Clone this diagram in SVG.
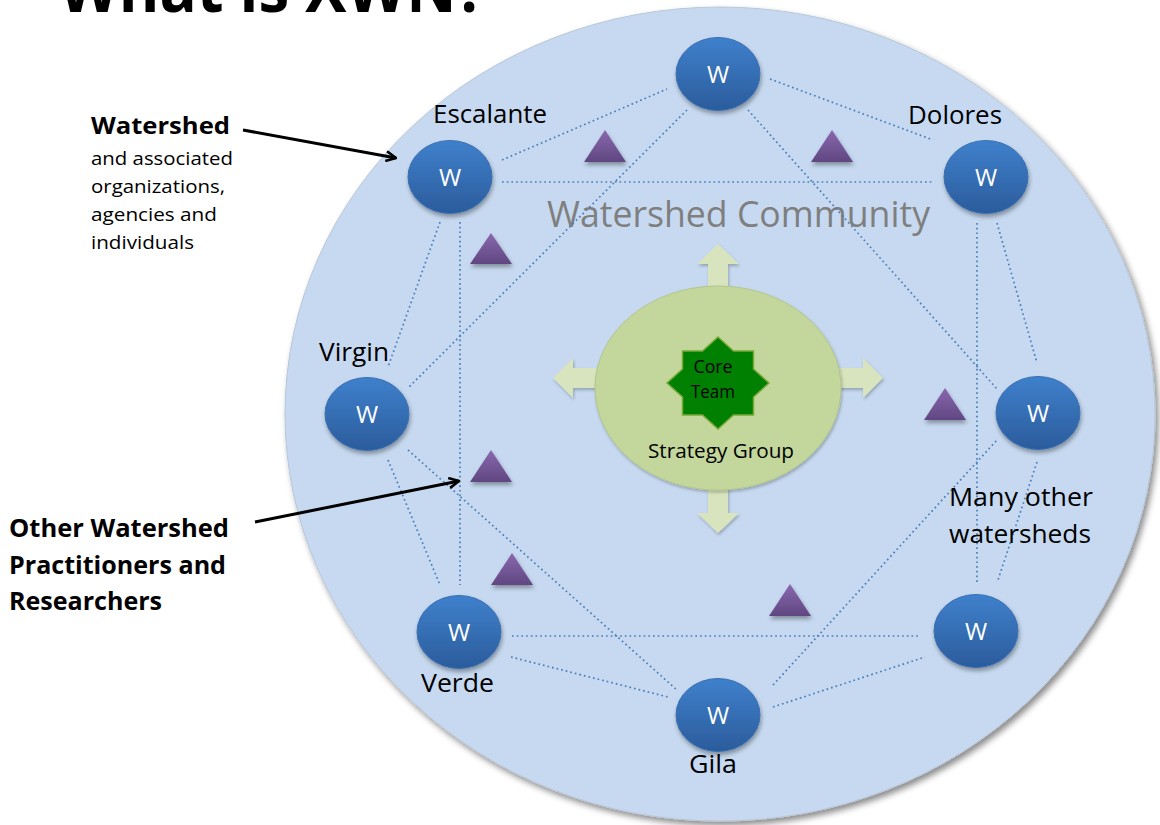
<svg xmlns="http://www.w3.org/2000/svg" width="1160" height="825" viewBox="0 0 1160 825">
<defs>
  <style>
    .lbl{font-family:"Open Sans","Noto Sans","Liberation Sans",sans-serif;font-size:25px;fill:#000}
    .side{font-family:"Open Sans","Noto Sans","Liberation Sans",sans-serif;font-size:19px;fill:#000}
    .bold{font-family:"Open Sans","Noto Sans","Liberation Sans",sans-serif;font-weight:bold;fill:#000}
    .w{font-family:"Open Sans","Noto Sans","Liberation Sans",sans-serif;font-size:24px;fill:#fff;text-anchor:middle}
    .dot{stroke:#4a7ebb;stroke-width:1.7;stroke-dasharray:1.7 3;fill:none}
    .node{fill:url(#gBlue);stroke:#3b6fb0;stroke-width:1;filter:url(#sh)}
    .tri{fill:url(#gPurple);filter:url(#sh)}
    .blk{fill:#d7e4bd;filter:url(#sh2)}
    .ptr{stroke:#000;stroke-width:3;fill:none;marker-end:url(#head)}
  </style>
  <linearGradient id="gBlue" x1="0" y1="0" x2="0" y2="1">
    <stop offset="0" stop-color="#3f80cc"/>
    <stop offset="1" stop-color="#2b5c9c"/>
  </linearGradient>
  <linearGradient id="gPurple" x1="0" y1="0" x2="0" y2="1">
    <stop offset="0" stop-color="#8a67ae"/>
    <stop offset="1" stop-color="#5f4781"/>
  </linearGradient>
  <filter id="sh" x="-30%" y="-30%" width="160%" height="170%">
    <feDropShadow dx="1" dy="3" stdDeviation="2" flood-color="#000" flood-opacity="0.35"/>
  </filter>
  <filter id="sh2" x="-30%" y="-30%" width="160%" height="170%">
    <feDropShadow dx="1" dy="2" stdDeviation="1.5" flood-color="#000" flood-opacity="0.25"/>
  </filter>
  <filter id="big" x="-10%" y="-10%" width="120%" height="120%">
    <feDropShadow dx="3" dy="4" stdDeviation="3" flood-color="#000" flood-opacity="0.45"/>
  </filter>
  <marker id="head" viewBox="0 0 12 12" refX="11" refY="6" markerWidth="12" markerHeight="12" markerUnits="userSpaceOnUse" orient="auto">
    <path d="M1,1 L11,6 L1,11" fill="none" stroke="#000" stroke-width="2.6"/>
  </marker>
</defs>

<text class="bold" x="59" y="12" font-size="66" textLength="427" lengthAdjust="spacingAndGlyphs">What is XWN?</text>

<g id="community">
  <ellipse cx="720" cy="414" rx="435" ry="407" fill="#c6d9f0" stroke="#b8c6d8" stroke-width="1" filter="url(#big)"/>
  <text x="547" y="227" font-family="'Open Sans','Noto Sans',sans-serif" font-size="36" fill="#7f7f7f" textLength="383" lengthAdjust="spacingAndGlyphs">Watershed Community</text>
</g>

<g id="connectors">
  <line class="dot" x1="502" y1="160" x2="667" y2="89"/>
  <line class="dot" x1="502" y1="182" x2="933" y2="182"/>
  <line class="dot" x1="770" y1="79" x2="933" y2="140"/>
  <line class="dot" x1="687" y1="110" x2="408" y2="388"/>
  <line class="dot" x1="748" y1="110" x2="998" y2="390"/>
  <line class="dot" x1="440" y1="222" x2="388" y2="367"/>
  <line class="dot" x1="460" y1="222" x2="460" y2="585"/>
  <line class="dot" x1="388" y1="460" x2="440" y2="585"/>
  <line class="dot" x1="408" y1="450" x2="677" y2="690"/>
  <line class="dot" x1="512" y1="636" x2="918" y2="636"/>
  <line class="dot" x1="511" y1="657" x2="668" y2="697"/>
  <line class="dot" x1="773" y1="707" x2="925" y2="657"/>
  <line class="dot" x1="773" y1="685" x2="997" y2="440"/>
  <line class="dot" x1="977" y1="223" x2="977" y2="583"/>
  <line class="dot" x1="997" y1="223" x2="1037" y2="363"/>
  <line class="dot" x1="1037" y1="462" x2="998" y2="580"/>
</g>

<g id="practitioners">
  <polygon class="tri" points="605,130 626,162 584,162"/>
  <polygon class="tri" points="832,130 853,162 811,162"/>
  <polygon class="tri" points="491,233 512,264 470,264"/>
  <polygon class="tri" points="491,450 512,482 470,482"/>
  <polygon class="tri" points="512,553 533,585 491,585"/>
  <polygon class="tri" points="790,584 811,616 769,616"/>
  <polygon class="tri" points="945,388 966,420 924,420"/>
</g>

<g id="strategy-group">
  <polygon class="blk" points="708,292 708,264 697,264 718,244 739,264 728,264 728,292"/>
  <polygon class="blk" points="708,486 708,513 697,513 718,533 739,513 728,513 728,486"/>
  <polygon class="blk" points="600,368 573,368 573,358 553,378 573,398 573,388 600,388"/>
  <polygon class="blk" points="836,368 863,368 863,358 883,378 863,398 863,388 836,388"/>
  <ellipse cx="718" cy="388" rx="123" ry="102" fill="#c3d69b" stroke="#b3c78a" stroke-width="1" filter="url(#sh2)"/>
  <text x="648" y="458" font-family="'Open Sans','Noto Sans',sans-serif" font-size="20" fill="#000" textLength="146" lengthAdjust="spacingAndGlyphs">Strategy Group</text>
</g>

<g id="core-team">
  <polygon points="718,337 733.5,351 753.5,351 753.5,369 769,383 753.5,397 753.5,415 733.5,415 718,429 702.5,415 682.5,415 682.5,397 667,383 682.5,369 682.5,351 702.5,351" fill="#008000" stroke="#7aa83a" stroke-width="1.5"/>
  <text x="713" y="373" font-family="'Open Sans','Noto Sans',sans-serif" font-size="17.5" fill="#000" text-anchor="middle" textLength="39" lengthAdjust="spacingAndGlyphs">Core</text>
  <text x="713" y="398" font-family="'Open Sans','Noto Sans',sans-serif" font-size="17.5" fill="#000" text-anchor="middle" textLength="44" lengthAdjust="spacingAndGlyphs">Team</text>
</g>

<g id="node-top">
  <ellipse class="node" cx="718" cy="74" rx="42" ry="36.5"/>
  <text class="w" x="718" y="83">W</text>
</g>
<g id="node-escalante">
  <ellipse class="node" cx="450" cy="177" rx="42" ry="36.5"/>
  <text class="w" x="450" y="186">W</text>
  <text class="lbl" x="433" y="123" textLength="114" lengthAdjust="spacingAndGlyphs">Escalante</text>
</g>
<g id="node-dolores">
  <ellipse class="node" cx="986" cy="177" rx="42" ry="36.5"/>
  <text class="w" x="986" y="186">W</text>
  <text class="lbl" x="908" y="124" textLength="94" lengthAdjust="spacingAndGlyphs">Dolores</text>
</g>
<g id="node-virgin">
  <ellipse class="node" cx="367" cy="414" rx="42" ry="36.5"/>
  <text class="w" x="367" y="423">W</text>
  <text class="lbl" x="319" y="361" textLength="70" lengthAdjust="spacingAndGlyphs">Virgin</text>
</g>
<g id="node-many-other">
  <ellipse class="node" cx="1038" cy="413" rx="42" ry="36.5"/>
  <text class="w" x="1038" y="422">W</text>
  <text class="lbl" x="949" y="506" textLength="144" lengthAdjust="spacingAndGlyphs">Many other</text>
  <text class="lbl" x="949" y="543" textLength="142" lengthAdjust="spacingAndGlyphs">watersheds</text>
</g>
<g id="node-bottom-right">
  <ellipse class="node" cx="976" cy="631" rx="42" ry="36.5"/>
  <text class="w" x="976" y="640">W</text>
</g>
<g id="node-verde">
  <ellipse class="node" cx="459" cy="632" rx="42" ry="36.5"/>
  <text class="w" x="459" y="641">W</text>
  <text class="lbl" x="421" y="692" textLength="73" lengthAdjust="spacingAndGlyphs">Verde</text>
</g>
<g id="node-gila">
  <ellipse class="node" cx="718" cy="715" rx="42" ry="36.5"/>
  <text class="w" x="718" y="724">W</text>
  <text class="lbl" x="689" y="773" textLength="48" lengthAdjust="spacingAndGlyphs">Gila</text>
</g>

<g id="label-watershed">
  <text class="bold" x="91" y="134" font-size="24" textLength="139" lengthAdjust="spacingAndGlyphs">Watershed</text>
  <text class="side" x="91" y="165" textLength="142" lengthAdjust="spacingAndGlyphs">and associated</text>
  <text class="side" x="91" y="193" textLength="134" lengthAdjust="spacingAndGlyphs">organizations,</text>
  <text class="side" x="91" y="221" textLength="126" lengthAdjust="spacingAndGlyphs">agencies and</text>
  <text class="side" x="91" y="249" textLength="103" lengthAdjust="spacingAndGlyphs">individuals</text>
  <line class="ptr" x1="243" y1="130" x2="396" y2="158"/>
</g>

<g id="label-practitioners">
  <text class="bold" x="9" y="537" font-size="25" textLength="220" lengthAdjust="spacingAndGlyphs">Other Watershed</text>
  <text class="bold" x="9" y="574" font-size="25" textLength="217" lengthAdjust="spacingAndGlyphs">Practitioners and</text>
  <text class="bold" x="9" y="610" font-size="25" textLength="153" lengthAdjust="spacingAndGlyphs">Researchers</text>
  <line class="ptr" x1="255" y1="522" x2="459" y2="481"/>
</g>
</svg>
